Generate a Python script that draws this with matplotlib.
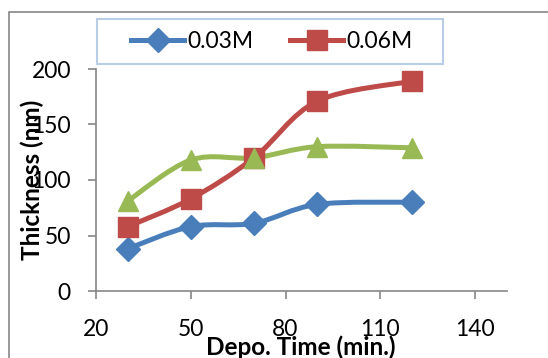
import matplotlib
matplotlib.use("Agg")
import matplotlib.pyplot as plt
from matplotlib.lines import Line2D
from matplotlib.patches import PathPatch, Rectangle
from matplotlib.path import Path

plt.rcParams["font.family"] = ["Lato", "DejaVu Sans"]

depo_time = [30, 50, 70, 90, 120]
thick_003 = [38, 58, 61, 78, 80]
thick_006 = [58, 83, 120, 171, 189]
thick_third = [81, 118, 120, 130, 129]

x_ticks = [20, 50, 80, 110, 140]
y_ticks = [0, 50, 100, 150, 200]

BLUE = "#4a7ebb"
RED = "#be4b48"
GREEN = "#98b954"
AXIS_GRAY = "#868686"

W, H = 548, 358


def smooth_path(xs, ys):
    # Excel-like smoothed line: Catmull-Rom segments as cubic Bezier curves
    pts = list(zip(xs, ys))
    verts = [pts[0]]
    codes = [Path.MOVETO]
    n = len(pts)
    for i in range(n - 1):
        p0 = pts[i - 1] if i > 0 else pts[i]
        p1 = pts[i]
        p2 = pts[i + 1]
        p3 = pts[i + 2] if i + 2 < n else pts[i + 1]
        c1 = (p1[0] + (p2[0] - p0[0]) / 6, p1[1] + (p2[1] - p0[1]) / 6)
        c2 = (p2[0] - (p3[0] - p1[0]) / 6, p2[1] - (p3[1] - p1[1]) / 6)
        verts += [c1, c2, p2]
        codes += [Path.CURVE4] * 3
    return Path(verts, codes)


fig = plt.figure(figsize=(W / 100, H / 100), dpi=100)
ax = fig.add_axes([96 / W, 1 - 291 / H, (506.7 - 96) / W, (291 - 69) / H])

series = [
    (thick_003, BLUE, "D", 12.5),
    (thick_006, RED, "s", 14),
    (thick_third, GREEN, "^", 15),
]
for ys, color, marker, ms in series:
    ax.add_patch(PathPatch(smooth_path(depo_time, ys), fill=False, edgecolor=color,
                           linewidth=3.6, capstyle="round", joinstyle="round", zorder=2))
    ax.plot(depo_time, ys, linestyle="none", marker=marker, markersize=ms,
            color=color, markeredgecolor=color, zorder=3)

ax.set_xlim(20, 150)
ax.set_ylim(0, 200)
ax.set_xticks(x_ticks)
ax.set_yticks(y_ticks)
for side in ("top", "right"):
    ax.spines[side].set_visible(False)
for side in ("left", "bottom"):
    ax.spines[side].set_color(AXIS_GRAY)
    ax.spines[side].set_linewidth(1.2)
ax.spines["bottom"].set_bounds(20, 150)
ax.tick_params(axis="both", direction="out", length=6, width=1.2, color=AXIS_GRAY,
               labelsize=16.5, labelcolor="black")
ax.tick_params(axis="y", pad=12)
ax.tick_params(axis="x", pad=14)

fig.text(32 / W, 1 - 180 / H, "Thickness (nm)", rotation=90, fontsize=17.5, fontweight="bold",
         ha="center", va="center")
fig.text(301 / W, 1 - 347 / H, "Depo. Time (min.)", fontsize=17.5, fontweight="bold",
         ha="center", va="center")

# outer chart border and legend frame
fig.patches.append(Rectangle((9 / W, -0.1), 1.2, 1.1 - 12 / H, transform=fig.transFigure,
                             fill=False, edgecolor=AXIS_GRAY, linewidth=1.2))
fig.patches.append(Rectangle((97 / W, 1 - 64 / H), (443 - 97) / W, 45 / H,
                             transform=fig.transFigure, fill=False,
                             edgecolor="#b9cde5", linewidth=1.5))

handles = [
    Line2D([], [], color=BLUE, lw=3.6, marker="D", markersize=12.5),
    Line2D([], [], color=RED, lw=3.6, marker="s", markersize=14),
]
fig.legend(handles, ["0.03M", "0.06M"], loc="center", ncol=2, frameon=False,
           bbox_to_anchor=(272 / W, 1 - 42 / H), fontsize=16.5, handlelength=2.3,
           handletextpad=0.15, columnspacing=1.6)

fig.savefig("out.png", dpi=100)
